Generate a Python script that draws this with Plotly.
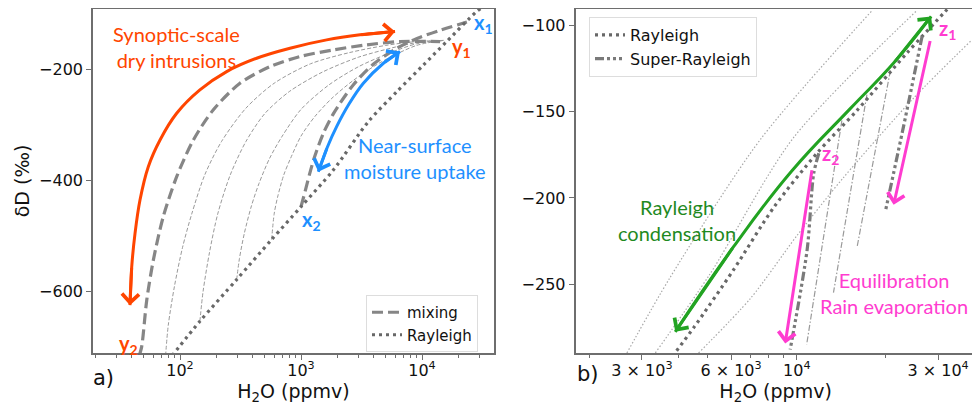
import numpy as np
import plotly.graph_objects as go

# ================= panel a) data (H2O ppmv, deltaD permil) =================
a_ray_q = [86, 146, 294, 572, 1000, 1850, 3600, 6200, 10300, 16000, 28300, 33000]
a_ray_d = [-715, -653, -578, -506, -447, -381, -294, -240, -192, -150, -96, -86]

a_mix_y_q = [46, 48.2, 53.1, 60.2, 72.7, 93.9, 129, 188, 313, 555, 981, 1850, 3490, 6580, 14100]
a_mix_y_d = [-715, -699, -615, -543, -465, -393, -327, -273, -225, -195, -177, -165, -156, -150, -150]

a_mix_x_q = [1000, 1050, 1270, 1530, 1850, 2700, 4000, 6200, 9000, 14000, 23500]
a_mix_x_d = [-447, -430, -363, -315, -280, -228, -190, -162, -145, -130, -115]

a_thin1_q = [76, 80, 90, 105, 125, 160, 220, 350, 600, 1200, 2500, 5000, 9000, 15000]
a_thin1_d = [-715, -660, -590, -520, -460, -390, -330, -270, -225, -190, -170, -157, -150, -148]
a_thin2_q = [146, 155, 175, 205, 260, 350, 500, 800, 1500, 3000, 6000, 9000, 15000]
a_thin2_d = [-653, -600, -530, -460, -390, -330, -280, -240, -205, -178, -160, -152, -148]
a_thin3_q = [294, 310, 340, 390, 450, 550, 700, 1000, 1700, 3000, 5500, 9000, 15000]
a_thin3_d = [-578, -540, -495, -445, -405, -360, -320, -272, -228, -195, -170, -154, -148]
a_thin4_q = [572, 600, 640, 720, 820, 1000, 1300, 1800, 2700, 4500, 9000, 15000]
a_thin4_d = [-506, -460, -430, -390, -360, -320, -285, -252, -220, -188, -157, -148]

a_orange_q = [38.6, 39.9, 42.5, 46.7, 54.7, 68.4, 93.9, 146, 243, 430, 811, 1630, 3075, 5990]
a_orange_d = [-624, -555, -495, -435, -375, -327, -279, -237, -204, -180, -162, -147, -138, -132]

a_blue_q = [1390, 1650, 1970, 2500, 3275, 4800, 6580]
a_blue_d = [-384, -340, -303, -262, -225, -189, -168]

a_xticks = [100, 1000, 10000]
a_xticktext = ["10<sup>2</sup>", "10<sup>3</sup>", "10<sup>4</sup>"]
a_xminor = [20, 30, 40, 50, 60, 70, 80, 90, 200, 300, 400, 500, 600, 700, 800, 900,
            2000, 3000, 4000, 5000, 6000, 7000, 8000, 9000, 20000, 30000, 40000]
a_yticks = [-600, -400, -200]

a_labels = [("x<sub>1</sub>", 32000, -118, "#1e90ff"), ("x<sub>2</sub>", 1230, -471, "#1e90ff"),
            ("y<sub>1</sub>", 21300, -160, "#ff4500"), ("y<sub>2</sub>", 37.5, -695, "#ff4500")]

# ================= panel b) data =================
b_ray_q = [3800, 4500, 6100, 8400, 11700, 16000, 23500, 31600, 34500]
b_ray_d = [-292, -275, -242, -205, -174, -149, -116, -92, -85]

b_thinray1_q = [2670, 3740, 7540, 18000]
b_thinray1_d = [-290, -246, -166, -91]
b_thinray2_q = [3330, 5100, 9750, 25500]
b_thinray2_d = [-290, -244, -165, -91]
b_thinray3_q = [4660, 7000, 10000, 14400, 24800, 38600]
b_thinray3_d = [-290, -258, -222, -188, -142, -109]

b_super1_q = [26500, 22960, 19900]
b_super1_d = [-106, -158, -208]
b_super2_q = [11870, 11400, 10840, 9500]
b_super2_d = [-174, -186, -230, -288]

b_thinsup1_q = [14200, 10800]
b_thinsup1_d = [-155, -285]
b_thinsup2_q = [17250, 13300]
b_thinsup2_d = [-140, -255]
b_thinsup3_q = [20700, 15960]
b_thinsup3_d = [-126, -229]

b_green_q = [3888, 6118, 9600, 15180, 21230, 28420]
b_green_d = [-277.7, -228.3, -184.5, -148, -121.7, -94.6]
b_magenta1 = [(28270, -108), (21230, -204)]
b_magenta2 = [(11270, -183), (9140, -284.5)]

b_xticks = [3000, 6000, 10000, 30000]
b_xticktext = ["3 × 10<sup>3</sup>", "6 × 10<sup>3</sup>", "10<sup>4</sup>", "3 × 10<sup>4</sup>"]
b_xminor = [2000, 4000, 5000, 7000, 8000, 9000, 20000, 40000]
b_yticks = [-250, -200, -150, -100]

b_labels = [("z<sub>1</sub>", 32200, -102), ("z<sub>2</sub>", 12950, -175)]

# ================= styling =================
GRAY_MIX = "#868686"
GRAY_RAY = "#686868"
GRAY_THIN = "#9a9a9a"
ORANGE = "#ff4500"
BLUE = "#1e90ff"
GREEN_ARROW = "#22a322"
GREEN_TEXT = "#1f8a1f"
MAGENTA = "#ff3cd0"
TXT = "Lato, 'Open Sans', sans-serif"
AX = "DejaVu Sans"

A_XRANGE = [1.281, 4.595]
A_YRANGE = [-710, -91.5]
B_XRANGE = [3.253, 4.604]
B_YRANGE = [-290, -90.3]

W, H, OFF = 972, 398, 8   # page has an 8px body margin

def px(x):
    return (x - OFF) / W

def py(y):
    return 1 - (y - OFF) / H

fig = go.Figure()

def line(q, d, xa, ya, color, width, dash, name=None, legend=None, showlegend=False, shape="spline",
         smoothing=0.8):
    fig.add_trace(go.Scatter(x=q, y=d, xaxis=xa, yaxis=ya, mode="lines",
                             line=dict(color=color, width=width, dash=dash, shape=shape, smoothing=smoothing),
                             name=name, legend=legend, showlegend=showlegend, hoverinfo="skip"))

# panel a
for q, d in [(a_thin1_q, a_thin1_d), (a_thin2_q, a_thin2_d), (a_thin3_q, a_thin3_d), (a_thin4_q, a_thin4_d)]:
    line(q, d, "x", "y", GRAY_THIN, 1, "4px,2px")
line(a_mix_y_q, a_mix_y_d, "x", "y", GRAY_MIX, 3.2, "11px,5px", name="mixing", legend="legend", showlegend=True)
line(a_mix_x_q, a_mix_x_d, "x", "y", GRAY_MIX, 3.2, "11px,5px")
line(a_ray_q, a_ray_d, "x", "y", GRAY_RAY, 3.2, "3px,4px", name="Rayleigh", legend="legend", showlegend=True)
line(a_orange_q, a_orange_d, "x", "y", ORANGE, 3, "solid")
line(a_blue_q, a_blue_d, "x", "y", BLUE, 3, "solid")

# panel b
for q, d in [(b_thinray1_q, b_thinray1_d), (b_thinray2_q, b_thinray2_d), (b_thinray3_q, b_thinray3_d)]:
    line(q, d, "x2", "y2", "#a8a8a8", 1.2, "1.5px,2px")
for q, d in [(b_thinsup1_q, b_thinsup1_d), (b_thinsup2_q, b_thinsup2_d), (b_thinsup3_q, b_thinsup3_d)]:
    line(q, d, "x2", "y2", GRAY_THIN, 1.2, "6px,2px,1.5px,2px", shape="linear")
line(b_ray_q, b_ray_d, "x2", "y2", GRAY_RAY, 3.2, "3px,4px", name="Rayleigh", legend="legend2", showlegend=True)
line(b_super1_q, b_super1_d, "x2", "y2", "#7a7a7a", 3.2, "9px,3px,3px,3px,3px,3px,3px,3px",
     name="Super-Rayleigh", legend="legend2", showlegend=True)
line(b_super2_q, b_super2_d, "x2", "y2", "#7a7a7a", 3.2, "9px,3px,3px,3px,3px,3px,3px,3px")
line(b_green_q, b_green_d, "x2", "y2", GREEN_ARROW, 3, "solid", smoothing=1.3)

L = np.log10

def arrow(xa, ya, tip, frm, color, width):
    fig.add_annotation(x=L(tip[0]), y=tip[1], ax=L(frm[0]), ay=frm[1], xref=xa, yref=ya,
                       axref=xa, ayref=ya, showarrow=True, arrowhead=4,
                       arrowsize=1.1, arrowwidth=width, arrowcolor=color,
                       standoff=0, text="")

def curve_heads(xa, ya, q, d, color, width):
    arrow(xa, ya, (q[0], d[0]), (q[1], d[1]), color, width)
    arrow(xa, ya, (q[-1], d[-1]), (q[-2], d[-2]), color, width)

# curved double-headed arrows
curve_heads("x", "y", a_orange_q, a_orange_d, ORANGE, 3)
curve_heads("x", "y", a_blue_q, a_blue_d, BLUE, 3)
curve_heads("x2", "y2", b_green_q, b_green_d, GREEN_ARROW, 3)
# straight single arrows (panel b)
arrow("x2", "y2", b_magenta1[1], b_magenta1[0], MAGENTA, 3)
arrow("x2", "y2", b_magenta2[1], b_magenta2[0], MAGENTA, 3)

# zoom box in panel a (= extent of panel b)
fig.add_shape(type="rect", xref="x", yref="y", x0=B_XRANGE[0], x1=B_XRANGE[1], y0=B_YRANGE[0], y1=B_YRANGE[1],
              line=dict(color="#555555", width=1.6))

def text(xa, ya, q, d, s, color, size=20, bold=False):
    fig.add_annotation(x=L(q), y=d, xref=xa, yref=ya, text=("<b>%s</b>" % s) if bold else s,
                       showarrow=False, font=dict(family=TXT, size=size, color=color), align="center")

text("x", "y", 94, -159, "Synoptic-scale<br>dry intrusions", ORANGE)
text("x", "y", 8750, -360, "Near-surface<br>moisture uptake", BLUE)
for s, q, d, c in a_labels:
    text("x", "y", q, d, s, c, size=20, bold=True)
text("x2", "y2", 3940, -213, "Rayleigh<br>condensation", GREEN_TEXT)
text("x2", "y2", 21240, -255, "Equilibration<br>Rain evaporation", MAGENTA)
for s, q, d in b_labels:
    text("x2", "y2", q, d, s, MAGENTA, size=20, bold=True)

for s, x, y in [("a)", 103, 378), ("b)", 588, 374)]:
    fig.add_annotation(x=px(x), y=py(y), xref="paper", yref="paper", xanchor="center", yanchor="middle",
                       text=s, showarrow=False, font=dict(family=AX, size=21, color="#111"))

axis_common = dict(showline=True, linecolor="#6e6e6e", linewidth=1.5, mirror=True, ticks="outside",
                   ticklen=5, tickcolor="#6e6e6e", showgrid=False, zeroline=False,
                   tickfont=dict(family=AX, size=16, color="#111"))
title_font = dict(family=AX, size=19, color="#111")

fig.update_layout(
    width=W, height=H, autosize=False, margin=dict(l=0, r=0, t=0, b=0),
    paper_bgcolor="white", plot_bgcolor="white",
    xaxis=dict(type="log", domain=[px(93), px(494)], range=A_XRANGE, anchor="y",
               tickvals=a_xticks, ticktext=a_xticktext,
               minor=dict(tickvals=a_xminor, ticks="outside", ticklen=3, tickcolor="#6e6e6e"),
               title=dict(text="H<sub>2</sub>O (ppmv)", font=title_font, standoff=0), **axis_common),
    yaxis=dict(domain=[py(353), py(9)], range=A_YRANGE, anchor="x", tickvals=a_yticks,
               title=dict(text="δD (‰)", font=title_font, standoff=4), **axis_common),
    xaxis2=dict(type="log", domain=[px(575.5), px(975.7)], range=B_XRANGE, anchor="y2",
                tickvals=b_xticks, ticktext=b_xticktext,
                minor=dict(tickvals=b_xminor, ticks="outside", ticklen=3, tickcolor="#6e6e6e"),
                title=dict(text="H<sub>2</sub>O (ppmv)", font=title_font, standoff=0), **axis_common),
    yaxis2=dict(domain=[py(353), py(9)], range=B_YRANGE, anchor="x2", tickvals=b_yticks, **axis_common),
    legend=dict(x=px(366), y=py(295), xanchor="left", yanchor="top", bgcolor="white",
                bordercolor="#dddddd", borderwidth=1, font=dict(family=AX, size=15, color="#111"),
                itemwidth=30, tracegroupgap=0),
    legend2=dict(x=px(589), y=py(17), xanchor="left", yanchor="top", bgcolor="white",
                 bordercolor="#dddddd", borderwidth=1, font=dict(family=AX, size=16, color="#111"),
                 itemwidth=30, tracegroupgap=0),
    showlegend=True,
)

try:
    fig.update_xaxes(ticklabelstandoff=-3)
except Exception:
    pass

fig.write_html("out.html")
